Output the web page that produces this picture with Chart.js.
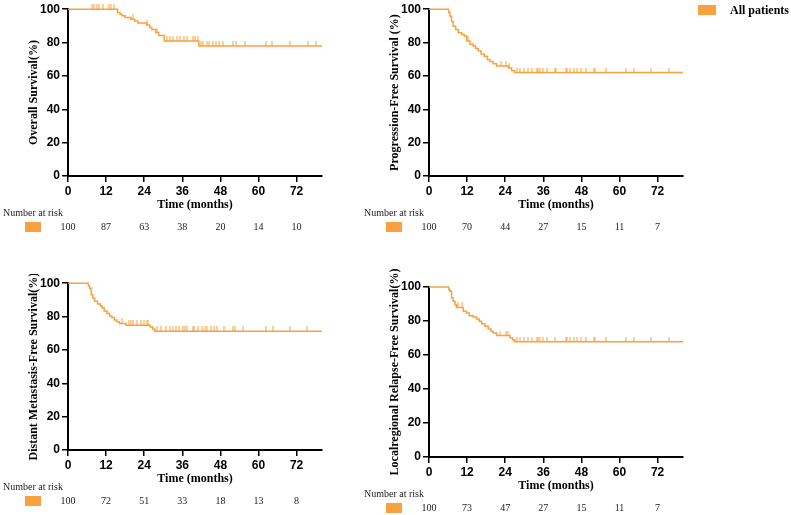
<!DOCTYPE html>
<html><head><meta charset="utf-8">
<script src="https://cdn.jsdelivr.net/npm/chart.js@4.4.1/dist/chart.umd.min.js"></script>
<style>
html,body{margin:0;padding:0;background:#fff;width:791px;height:515px;overflow:hidden;position:relative;}
canvas{position:absolute;}
</style></head><body>
<canvas id="c1" width="340" height="240" style="left:0px;top:0px"></canvas>
<canvas id="c2" width="430" height="240" style="left:361px;top:0px"></canvas>
<canvas id="c3" width="340" height="240" style="left:0px;top:274px"></canvas>
<canvas id="c4" width="340" height="266" style="left:361px;top:255px"></canvas>
<script>
// ---------- data ----------
const xTicks = [0, 12, 24, 36, 48, 60, 72];
const yTicks = [0, 20, 40, 60, 80, 100];
const X_MAX = 80;
const seriesLabel = 'All patients';
const xTitle = 'Time (months)';
const riskTitle = 'Number at risk';

// Overall survival
const osTitle = 'Overall Survival(%)';
const osTimes = [0, 15.6, 16.4, 17.0, 18.0, 19.8, 21.0, 22.0, 24.8, 25.7, 26.4, 27.6, 28.6, 30.3, 41.2];
const osSurv  = [100, 98, 97, 96, 95, 94, 93, 91.8, 90.5, 89, 87.8, 86, 84.2, 81, 78];
const osCensor = [7.5, 8.3, 9.1, 9.9, 10.9, 12.8, 13.5, 14.4, 20.6, 25.0, 28.0, 31.3, 32.2, 33.2, 34.3, 35.3, 36.4, 37.4, 39.3, 40.0, 40.8, 42.0, 42.6, 43.7, 44.5, 45.6, 46.6, 47.7, 48.9, 52.1, 52.9, 55.8, 62.4, 64.4, 69.9, 75.7, 78.1];
const osRisk = [100, 87, 63, 38, 20, 14, 10];

// Progression-free survival
const pfsTitle = 'Progression-Free Survival (%)';
const pfsTimes = [0, 6.2, 6.6, 7.1, 7.6, 8.4, 9.2, 10.3, 11.1, 11.9, 12.9, 13.9, 14.7, 15.5, 16.4, 17.4, 18.4, 19.2, 20.2, 21.3, 25.0, 26.0, 26.9];
const pfsSurv  = [100, 98, 95.7, 92.7, 89.8, 87.8, 85.9, 84.9, 83.9, 81, 79, 78, 76.5, 75.1, 73.1, 71.8, 69.8, 68.6, 67.3, 65.9, 64.7, 63.3, 62];
const pfsCensor = [12.4, 22.6, 24.4, 25.2, 27.6, 28.6, 30.0, 31.2, 32.5, 33.9, 34.4, 34.9, 36.0, 37.3, 39.6, 39.9, 43.0, 43.6, 44.5, 45.6, 46.6, 47.8, 49.3, 52.0, 52.4, 55.9, 62.2, 64.5, 69.8, 75.5];
const pfsRisk = [100, 70, 44, 27, 15, 11, 7];

// Distant metastasis-free survival
const dmfsTitle = 'Distant Metastasis-Free Survival(%)';
const dmfsTimes = [0, 6.4, 6.8, 7.3, 7.8, 8.4, 9.3, 10.2, 10.7, 11.4, 12.3, 13.1, 13.8, 14.6, 15.4, 16.2, 18.3, 25.9, 26.7, 27.3];
const dmfsSurv  = [100, 98.5, 97, 93.1, 91.2, 89.2, 87.6, 86.3, 85.3, 83.3, 81.8, 80.4, 79.4, 78, 76.9, 75.9, 74.8, 73.8, 72.5, 71.2];
const dmfsCensor = [17.0, 19.1, 19.8, 20.4, 21.7, 22.9, 23.8, 24.8, 25.2, 28.0, 29.2, 30.9, 32.2, 33.2, 34.1, 35.1, 36.2, 36.9, 37.6, 39.3, 39.7, 40.8, 42.1, 43.2, 43.9, 45.0, 46.0, 46.9, 49.0, 51.9, 52.6, 55.2, 62.3, 64.7, 69.9, 75.4];
const dmfsRisk = [100, 72, 51, 33, 18, 13, 8];

// Localregional relapse-free survival
const lrrfsTitle = 'Localregional Relapse-Free Survival(%)';
const lrrfsTimes = [0, 6.2, 6.6, 7.1, 7.6, 8.2, 8.7, 10.8, 11.8, 12.7, 13.9, 15.0, 15.8, 16.6, 17.6, 18.7, 19.5, 20.2, 21.3, 25.5, 26.3, 27.0];
const lrrfsSurv  = [100, 98.5, 97.5, 93.5, 91.6, 89.6, 88, 85.7, 84.7, 83.1, 82.4, 81.2, 79.8, 78.4, 76.9, 75.3, 73.9, 72.9, 71.4, 70.2, 68.8, 67.8];
const lrrfsCensor = [9.2, 10.3, 22.3, 24.4, 24.9, 27.6, 28.6, 30.0, 31.2, 32.5, 33.9, 34.4, 34.9, 36.0, 37.3, 39.6, 43.0, 43.6, 44.5, 45.6, 46.6, 47.8, 49.3, 52.0, 52.4, 55.9, 62.2, 64.5, 69.8, 75.5];
const lrrfsRisk = [100, 73, 47, 27, 15, 11, 7];

// ---------- styling ----------
const ORANGE = '#F9A03F';
const SANS = '"Liberation Sans", Arial, sans-serif';
const SERIF = '"Liberation Serif", "Times New Roman", serif';

function survAt(times, surv, t) {
  let s = surv[0];
  for (let i = 0; i < times.length; i++) if (times[i] <= t) s = surv[i];
  return s;
}

const tickImg = document.createElement('canvas');
tickImg.width = 2; tickImg.height = 10;
(function(){ const c = tickImg.getContext('2d'); c.fillStyle = ORANGE; c.fillRect(0.5, 0, 1, 5); })();

const riskPlugin = {
  id: 'risk',
  afterDraw(chart, args, opts) {
    const {ctx, chartArea: a, scales: {x}} = chart;
    ctx.save();
    ctx.textBaseline = 'middle';
    ctx.fillStyle = '#222';
    ctx.font = '10px ' + SERIF;
    ctx.textAlign = 'left';
    ctx.fillText(riskTitle, a.left - 65, a.bottom + 37);
    ctx.fillStyle = ORANGE;
    ctx.fillRect(a.left - 43, a.bottom + 46, 16, 10);
    ctx.fillStyle = '#222';
    ctx.textAlign = 'center';
    opts.values.forEach((v, i) => ctx.fillText(String(v), x.getPixelForValue(xTicks[i]), a.bottom + 51));
    if (opts.legend) {
      ctx.fillStyle = ORANGE;
      ctx.fillRect(a.right + 15, 5, 18, 10);
      ctx.fillStyle = '#000';
      ctx.textAlign = 'left';
      ctx.font = 'bold 12px ' + SERIF;
      ctx.fillText(chart.data.datasets[0].label, a.right + 47, 10.5);
    }
    ctx.restore();
  }
};

function makeChart(id, title, times, surv, censor, risk, rightPad, topPad, legend) {
  const line = times.map((t, i) => ({x: t, y: surv[i]}));
  line.push({x: X_MAX, y: surv[surv.length - 1]});
  const cens = censor.map(t => ({x: t, y: survAt(times, surv, t)}));
  const axisCommon = {
    grid: {display: true, drawOnChartArea: false, drawTicks: true, tickLength: 6, color: '#000', lineWidth: 1.5},
    border: {display: true, color: '#000', width: 2},
    ticks: {color: '#000', font: {family: SANS, weight: 'bold', size: 12}, padding: 2}
  };
  return new Chart(document.getElementById(id), {
    type: 'line',
    data: {
      datasets: [
        {label: seriesLabel, data: line, stepped: 'before', borderColor: ORANGE, borderWidth: 1.5, pointRadius: 0, fill: false, clip: false},
        {label: seriesLabel + ' censored', data: cens, showLine: false, pointStyle: tickImg, pointRadius: 3, clip: false}
      ]
    },
    options: {
      responsive: false, animation: false, devicePixelRatio: 1,
      layout: {padding: {left: 0, right: rightPad, top: topPad, bottom: 0}},
      plugins: {legend: {display: false}, tooltip: {enabled: false}, risk: {values: risk, legend: legend}},
      scales: {
        x: Object.assign({}, axisCommon, {
          type: 'linear', min: 0, max: X_MAX,
          afterBuildTicks: s => { s.ticks = xTicks.map(v => ({value: v})); },
          afterFit: s => { s.height = 64; },
          title: {display: true, text: xTitle, color: '#000', font: {family: SERIF, weight: 'bold', size: 12}, padding: {top: 0, bottom: 27.8}}
        }),
        y: Object.assign({}, axisCommon, {
          type: 'linear', min: 0, max: 100,
          afterBuildTicks: s => { s.ticks = yTicks.map(v => ({value: v})); },
          afterFit: s => { s.width = 68; },
          title: {display: true, text: title, color: '#000', font: {family: SERIF, weight: 'bold', size: 12}, padding: {top: 26.8, bottom: 0}}
        })
      }
    },
    plugins: [riskPlugin]
  });
}

makeChart('c1', osTitle, osTimes, osSurv, osCensor, osRisk, 18, 6, false);
makeChart('c2', pfsTitle, pfsTimes, pfsSurv, pfsCensor, pfsRisk, 108, 6, true);
makeChart('c3', dmfsTitle, dmfsTimes, dmfsSurv, dmfsCensor, dmfsRisk, 18, 6, false);
makeChart('c4', lrrfsTitle, lrrfsTimes, lrrfsSurv, lrrfsCensor, lrrfsRisk, 18, 32, false);
</script>
</body></html>
